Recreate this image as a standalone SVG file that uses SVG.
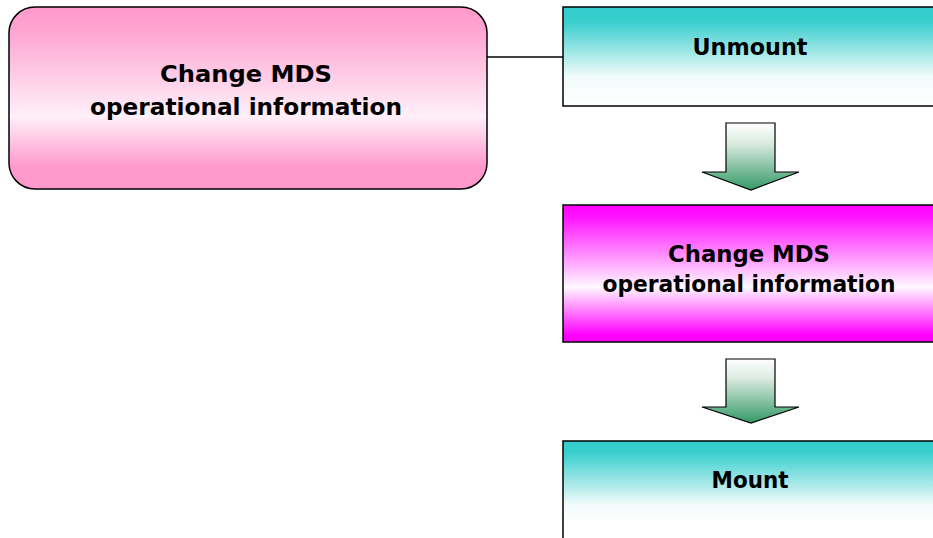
<svg xmlns="http://www.w3.org/2000/svg" width="933" height="538" viewBox="0 0 933 538">
<defs>
<linearGradient id="gPink" x1="0" y1="0" x2="0" y2="1">
<stop offset="0" stop-color="#ff99cc"/><stop offset="0.12" stop-color="#ffa3d1"/><stop offset="0.6" stop-color="#fff0f9"/><stop offset="0.88" stop-color="#ff99cc"/><stop offset="1" stop-color="#ff99cc"/>
</linearGradient>
<linearGradient id="gMag" x1="0" y1="0" x2="0" y2="1">
<stop offset="0" stop-color="#ff00ff"/><stop offset="0.08" stop-color="#ff10ff"/><stop offset="0.6" stop-color="#fff8ff"/><stop offset="0.95" stop-color="#ff00ff"/><stop offset="1" stop-color="#ff00ff"/>
</linearGradient>
<linearGradient id="gTeal" x1="0" y1="0" x2="0" y2="1">
<stop offset="0" stop-color="#33cccc"/><stop offset="0.15" stop-color="#3acece"/><stop offset="0.7" stop-color="#f2fbfb"/><stop offset="1" stop-color="#ffffff"/>
</linearGradient>
<linearGradient id="gTeal2" gradientUnits="userSpaceOnUse" x1="0" y1="441" x2="0" y2="520">
<stop offset="0" stop-color="#33cccc"/><stop offset="0.15" stop-color="#3acece"/><stop offset="0.8" stop-color="#f2fbfb"/><stop offset="1" stop-color="#ffffff"/>
</linearGradient>
<linearGradient id="gGreen" x1="0" y1="0" x2="0" y2="1">
<stop offset="0" stop-color="#ffffff"/><stop offset="0.3" stop-color="#dcebe2"/><stop offset="1" stop-color="#339966"/>
</linearGradient>
<style>
.box{stroke:#000;stroke-width:1.5}
.t{font-family:"DejaVu Sans",Verdana,sans-serif;font-weight:bold;font-size:23px;fill:#000;text-anchor:middle}
.arrow{fill:url(#gGreen);stroke:#000;stroke-width:1.2}
.conn{stroke:#000;stroke-width:1.5;fill:none}
</style>
</defs>
<rect width="933" height="538" fill="#ffffff"/>
<g id="connectors">
<line class="conn" x1="487" y1="57" x2="563" y2="57"/>
<path id="arrow1" class="arrow" d="M726,123 H775 V172 H799 L751,190 L702,172 H726 Z"/>
<path id="arrow2" class="arrow" d="M726,359 H775 V407 H799 L751,423 L702,407 H726 Z"/>
</g>
<g id="node-change-left">
<rect class="box" x="9" y="7" width="478" height="182" rx="26" ry="26" fill="url(#gPink)"/>
<text class="t" x="246" y="82" textLength="172" lengthAdjust="spacingAndGlyphs">Change MDS</text>
<text class="t" x="246" y="115" textLength="312" lengthAdjust="spacingAndGlyphs">operational information</text>
</g>
<g id="node-unmount">
<rect class="box" x="563" y="7" width="380" height="99" fill="url(#gTeal)"/>
<text class="t" x="750" y="55" textLength="115" lengthAdjust="spacingAndGlyphs">Unmount</text>
</g>
<g id="node-change-right">
<rect class="box" x="563" y="205" width="380" height="137" fill="url(#gMag)"/>
<text class="t" x="749" y="262" textLength="162" lengthAdjust="spacingAndGlyphs">Change MDS</text>
<text class="t" x="749" y="292" textLength="293" lengthAdjust="spacingAndGlyphs">operational information</text>
</g>
<g id="node-mount">
<rect class="box" x="563" y="441" width="380" height="110" fill="url(#gTeal2)"/>
<text class="t" x="750" y="488" textLength="77" lengthAdjust="spacingAndGlyphs">Mount</text>
</g>
</svg>
